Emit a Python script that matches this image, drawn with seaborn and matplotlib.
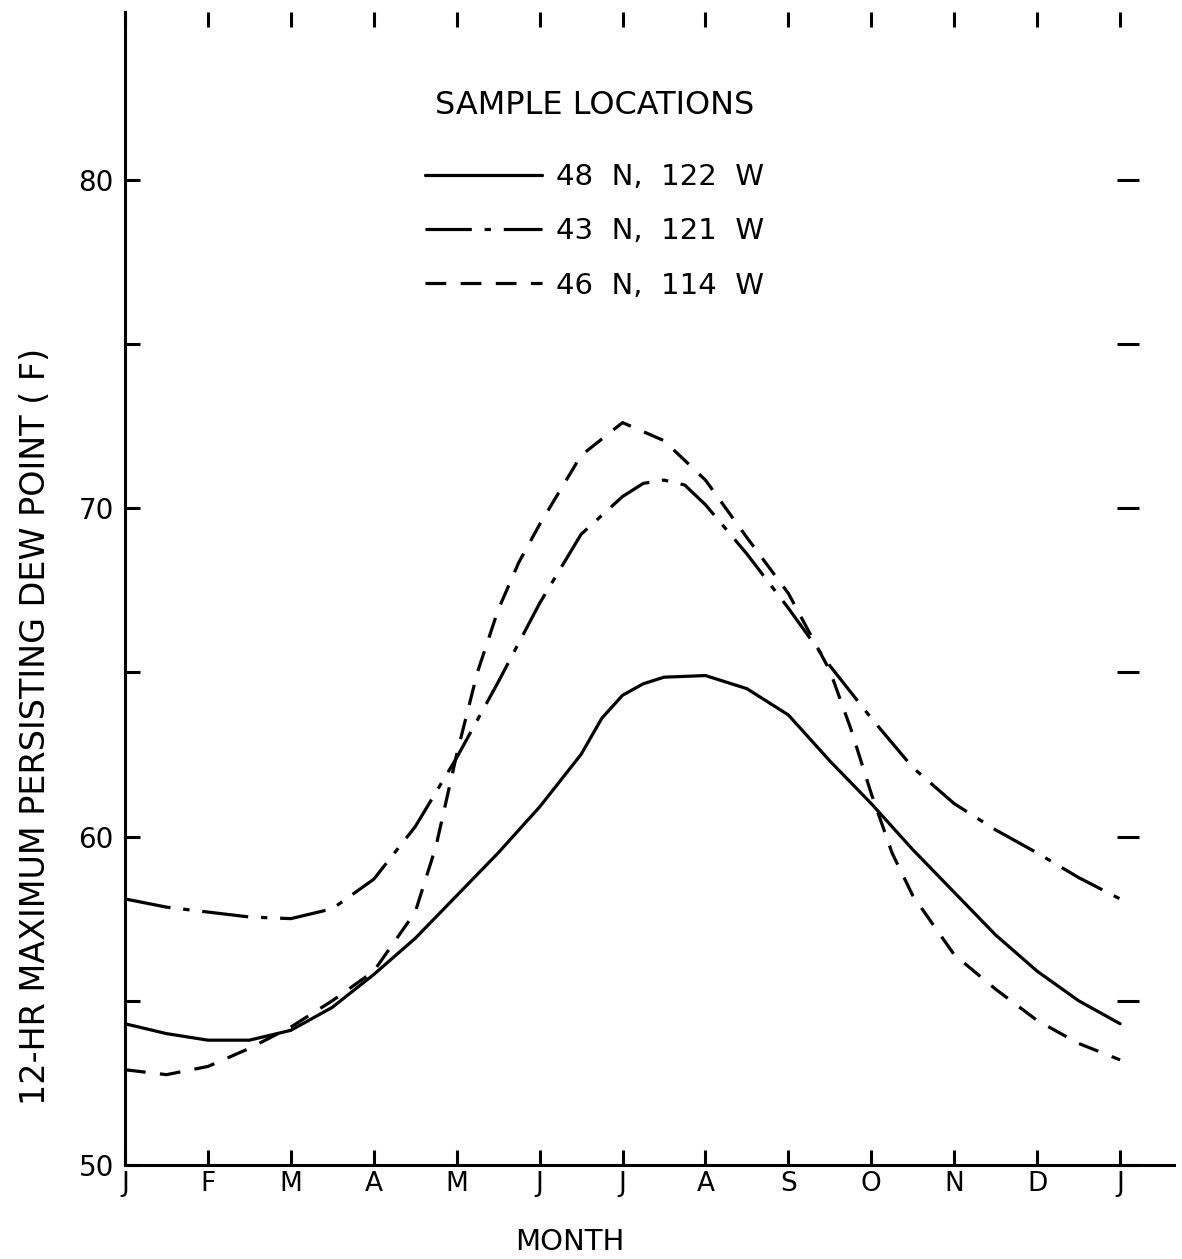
import matplotlib
matplotlib.use("Agg")
import matplotlib.pyplot as plt
import seaborn as sns
import pandas as pd

# month positions: 0 = Jan, 12 = next Jan
month_labels = ['J', 'F', 'M', 'A', 'M', 'J', 'J', 'A', 'S', 'O', 'N', 'D', 'J']

loc_names = ['48  N,  122  W', '43  N,  121  W', '46  N,  114  W']

# 48 N, 122 W (solid)
x_48 = [0, 0.5, 1, 1.5, 2, 2.5, 3, 3.5, 4, 4.5, 5, 5.5, 5.75, 6, 6.25, 6.5,
        7, 7.5, 8, 8.5, 9, 9.5, 10, 10.5, 11, 11.5, 12]
dew_48 = [54.3, 54.0, 53.8, 53.8, 54.1, 54.8, 55.8, 56.9, 58.2, 59.5, 60.9,
          62.5, 63.6, 64.3, 64.65, 64.85, 64.9, 64.5, 63.7, 62.3, 61.0, 59.6,
          58.3, 57.0, 55.9, 55.0, 54.3]

# 43 N, 121 W (dash-dot)
x_43 = [0, 0.5, 1, 1.5, 2, 2.5, 3, 3.5, 4, 4.5, 5, 5.5, 6, 6.25, 6.5, 6.75,
        7, 7.5, 8, 8.5, 9, 9.5, 10, 10.5, 11, 11.5, 12]
dew_43 = [58.1, 57.85, 57.7, 57.55, 57.5, 57.8, 58.7, 60.3, 62.4, 64.7, 67.1,
          69.2, 70.35, 70.75, 70.85, 70.7, 70.1, 68.6, 66.95, 65.2, 63.6, 62.1,
          61.0, 60.2, 59.5, 58.75, 58.1]

# 46 N, 114 W (dashed)
x_46 = [0, 0.5, 1, 1.5, 2, 2.5, 3, 3.5, 3.75, 4, 4.25, 4.5, 4.75, 5, 5.5, 6,
        6.5, 7, 7.5, 8, 8.5, 8.75, 9, 9.25, 9.5, 10, 10.5, 11, 11.5, 12]
dew_46 = [52.9, 52.75, 53.0, 53.55, 54.2, 55.0, 55.9, 57.7, 59.7, 62.5, 65.0,
          66.9, 68.35, 69.5, 71.6, 72.6, 72.05, 70.85, 69.1, 67.4, 65.05, 63.3,
          61.3, 59.5, 58.2, 56.4, 55.35, 54.4, 53.7, 53.2]

df = pd.concat([
    pd.DataFrame({'month': x_48, 'dew': dew_48, 'loc': loc_names[0]}),
    pd.DataFrame({'month': x_43, 'dew': dew_43, 'loc': loc_names[1]}),
    pd.DataFrame({'month': x_46, 'dew': dew_46, 'loc': loc_names[2]}),
])

sns.set_theme(style="ticks")
plt.rcParams['font.family'] = ['DejaVu Sans']
plt.rcParams['axes.linewidth'] = 2.2
plt.rcParams['text.color'] = 'black'
plt.rcParams['axes.labelcolor'] = 'black'
plt.rcParams['xtick.color'] = 'black'
plt.rcParams['ytick.color'] = 'black'
plt.rcParams['axes.edgecolor'] = 'black'

fig = plt.figure(figsize=(11.82, 12.59), dpi=100)
ax = fig.add_axes([125 / 1182, 1 - 1165 / 1259, 1049 / 1182, 1153 / 1259])

line_dashes = {
    loc_names[0]: '',
    loc_names[1]: (14.5, 4.0, 2.0, 4.0),
    loc_names[2]: (6.5, 4.5),
}
sns.lineplot(data=df, x='month', y='dew', style='loc', style_order=loc_names,
             dashes=line_dashes, color='black', linewidth=2.3,
             estimator=None, ax=ax)

ax.set_xlim(0, 12.65)
ax.set_ylim(50, 85.1)

ax.set_xticks(range(13))
ax.set_xticklabels(month_labels, fontsize=19)
ax.set_yticks([50, 60, 70, 80])
ax.set_yticks([55, 65, 75], minor=True)
ax.tick_params(axis='y', labelsize=20)

for side in ['top', 'right']:
    ax.spines[side].set_visible(False)
ax.spines['right'].set_position(('data', 12.1))

ax.tick_params(which='both', direction='in', length=11, width=2.2,
               color='black', top=True, right=True, labeltop=False,
               labelright=False)
ax.tick_params(axis='x', pad=4)
ax.tick_params(axis='y', which='both', pad=8)
for t in ax.yaxis.get_major_ticks() + ax.yaxis.get_minor_ticks():
    t.tick2line.set_marker('_')
    t.tick2line.set_markersize(16)
    t.tick2line.set_markeredgewidth(2.2)

ax.set_xlabel('MONTH', fontsize=21)
ax.xaxis.set_label_coords(0.424, -0.0546)
ax.set_ylabel('12-HR MAXIMUM PERSISTING DEW POINT ( F)', fontsize=24)
ax.yaxis.set_label_coords(-0.0696, 0.38)

handles, labels = ax.get_legend_handles_labels()
leg = ax.legend(handles, labels, title='SAMPLE LOCATIONS', frameon=False,
                loc='upper left', bbox_to_anchor=(0.286, 0.932),
                fontsize=21, title_fontsize=23, handlelength=4.0,
                handletextpad=0.5, labelspacing=0.9, borderpad=0,
                borderaxespad=0, alignment='center')
leg._legend_box.sep = 30

fig.savefig('out.png', dpi=100)
